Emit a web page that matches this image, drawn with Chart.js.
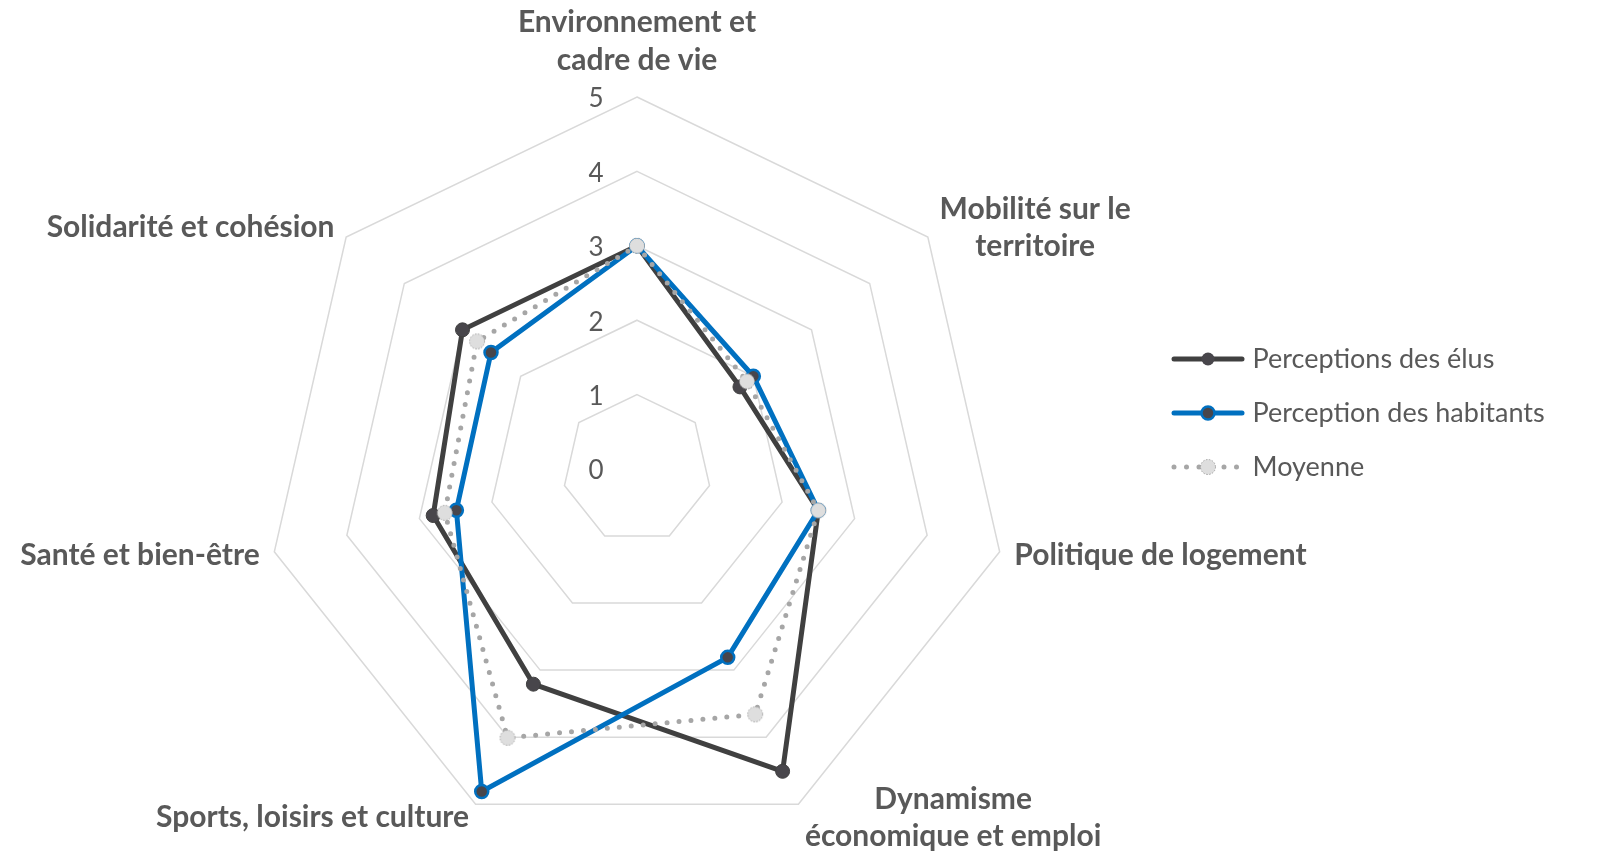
<!DOCTYPE html>
<html lang="fr">
<head>
<meta charset="utf-8">
<title>Perceptions</title>
<script src="https://cdn.jsdelivr.net/npm/chart.js@4.4.0/dist/chart.umd.min.js"></script>
<style>
  html, body { margin: 0; padding: 0; background: #fff; }
  canvas { display: block; }
</style>
</head>
<body>
<canvas id="radar" width="1602" height="855"></canvas>
<script>
var categories = [
  ['Environnement et', 'cadre de vie'],
  ['Mobilité sur le', 'territoire'],
  ['Politique de logement'],
  ['Dynamisme', 'économique et emploi'],
  ['Sports, loisirs et culture'],
  ['Santé et bien-être'],
  ['Solidarité et cohésion']
];
var seriesNames = ['Perceptions des élus', 'Perception des habitants', 'Moyenne'];
var elus = [3.0, 1.77, 2.5, 4.51, 3.21, 2.81, 3.0];
var habitants = [3.0, 2.0, 2.5, 2.81, 4.81, 2.49, 2.51];
var moyenne = [3.0, 1.89, 2.5, 3.66, 4.01, 2.65, 2.75];
var tickValues = [0, 1, 2, 3, 4, 5];

var textGrey = '#595959';
var legendSize = 27;

// petit marqueur gris clair a bord pointille (serie Moyenne)
function makeDottedMarker() {
  var c = document.createElement('canvas');
  c.width = 20; c.height = 20;
  var g = c.getContext('2d');
  g.beginPath();
  g.arc(10, 10, 7.5, 0, Math.PI * 2);
  g.fillStyle = '#dedede';
  g.fill();
  g.setLineDash([1.5, 1.5]);
  g.lineWidth = 1;
  g.strokeStyle = '#a0a0a0';
  g.stroke();
  return c;
}

// symboles de legende : trait + marqueur
function makeLegendIcon(kind) {
  var c = document.createElement('canvas');
  c.width = 74; c.height = 20;
  var g = c.getContext('2d');
  g.lineCap = 'round';
  g.beginPath();
  g.moveTo(3, 10);
  g.lineTo(71, 10);
  if (kind === 0) {
    g.strokeStyle = '#404040'; g.lineWidth = 5; g.stroke();
  } else if (kind === 1) {
    g.strokeStyle = '#0070C0'; g.lineWidth = 5; g.stroke();
  } else {
    g.setLineDash([0, 12.5]);
    g.strokeStyle = '#a6a6a6'; g.lineWidth = 5; g.stroke();
    g.setLineDash([]);
  }
  if (kind === 2) {
    g.drawImage(dottedMarker, 27, 0);
  } else {
    g.beginPath();
    g.arc(37, 10, 6.5, 0, Math.PI * 2);
    g.fillStyle = '#48464b';
    g.fill();
    if (kind === 1) {
      g.lineWidth = 2.5; g.strokeStyle = '#0070C0'; g.stroke();
    }
  }
  return c;
}

var dottedMarker = makeDottedMarker();
var legendIcons = [makeLegendIcon(0), makeLegendIcon(1), makeLegendIcon(2)];

// largeur de la legende pour centrer le radar
var mctx = document.createElement('canvas').getContext('2d');
mctx.font = legendSize + 'px Lato';
var longest = Math.max.apply(null, seriesNames.map(function(t) { return mctx.measureText(t).width; }));
var legendPad = 54 - legendSize;
var legendLeft = 1177 - legendPad;
var legendWidth = legendPad + 62 + legendSize / 2 + longest + 10;
var padRight = Math.max(0, 1602 - legendLeft - legendWidth);
var padLeft = 2 * 637 - legendLeft;

var axisText = {
  id: 'axisText',
  beforeDatasetsDraw: function(chart) {
    var r = chart.scales.r;
    var ctx = chart.ctx;
    ctx.save();
    ctx.fillStyle = textGrey;
    ctx.font = '26px Lato';
    ctx.textAlign = 'center';
    ctx.textBaseline = 'middle';
    tickValues.forEach(function(v) {
      ctx.fillText(String(v), r.xCenter - 41, r.yCenter - r.getDistanceFromCenterForValue(v) + 2);
    });

    ctx.font = 'bold 30px Lato';
    var lh = 37.5;
    categories.forEach(function(lines, i) {
      var p = r.getPointPosition(i, r.drawingArea + 15);
      var a = r.getIndexAngle(i);
      var s = Math.sin(a), c = Math.cos(a);
      var w = Math.max.apply(null, lines.map(function(t) { return ctx.measureText(t).width; }));
      var cx = p.x;
      if (s > 0.05) cx = p.x + w / 2;
      if (s < -0.05) cx = p.x - w / 2;
      var n = lines.length;
      lines.forEach(function(t, k) {
        var y;
        if (c > 0.99) y = p.y - 22 - (n - 1 - k) * lh;
        else y = p.y + (k - (n - 1) / 2) * lh;
        ctx.fillText(t, cx, y);
      });
    });
    ctx.restore();
  }
};

var chart = new Chart(document.getElementById('radar'), {
  type: 'radar',
  data: {
    labels: categories,
    datasets: [{
      label: seriesNames[0],
      data: elus,
      order: 3,
      borderColor: '#404040',
      borderWidth: 5,
      pointRadius: 7,
      pointBackgroundColor: '#48464b',
      pointBorderColor: '#404040',
      pointBorderWidth: 1,
      fill: false
    }, {
      label: seriesNames[1],
      data: habitants,
      order: 2,
      borderColor: '#0070C0',
      borderWidth: 5,
      pointRadius: 6.5,
      pointBackgroundColor: '#48464b',
      pointBorderColor: '#0070C0',
      pointBorderWidth: 2.5,
      fill: false
    }, {
      label: seriesNames[2],
      data: moyenne,
      order: 1,
      borderColor: '#a6a6a6',
      borderWidth: 5,
      borderDash: [0, 12],
      borderCapStyle: 'round',
      pointRadius: 8,
      pointStyle: dottedMarker,
      fill: false
    }]
  },
  options: {
    responsive: false,
    animation: false,
    layout: {
      padding: { top: 97, bottom: 14, left: padLeft, right: padRight }
    },
    elements: { line: { tension: 0 } },
    scales: {
      r: {
        min: 0,
        max: 5,
        ticks: { display: false, stepSize: 1 },
        pointLabels: { display: false },
        angleLines: { display: false },
        grid: { color: '#d9d9d9', lineWidth: 1.5 }
      }
    },
    plugins: {
      tooltip: { enabled: false },
      legend: {
        position: 'right',
        align: 'start',
        title: { display: true, text: '', padding: { top: 0, bottom: 359 - legendSize / 2 - legendPad - 97 - 14.4 } },
        labels: {
          usePointStyle: true,
          pointStyleWidth: 62,
          padding: legendPad,
          font: { family: 'Lato', size: legendSize },
          color: textGrey,
          generateLabels: function(chart) {
            return chart.data.datasets.map(function(ds, i) {
              return {
                text: ds.label,
                pointStyle: legendIcons[i],
                fontColor: textGrey,
                fillStyle: 'transparent',
                strokeStyle: 'transparent',
                lineWidth: 0,
                hidden: false,
                datasetIndex: i
              };
            });
          }
        }
      }
    }
  },
  plugins: [axisText]
});
</script>
</body>
</html>
